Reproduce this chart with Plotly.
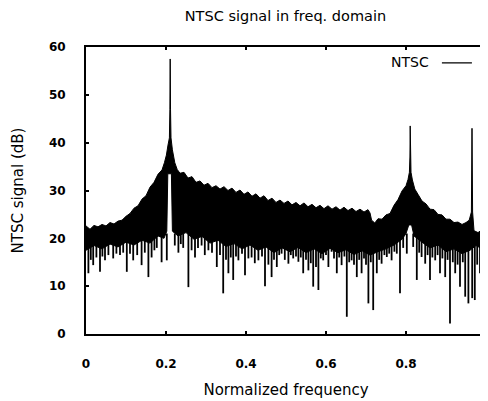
import plotly.graph_objects as go

# Upper envelope of the spectrum (normalized frequency, dB)
upper_f = [0.000, 0.010, 0.020, 0.030, 0.040, 0.050, 0.060, 0.070, 0.080, 0.090,
           0.100, 0.110, 0.120, 0.130, 0.140, 0.150, 0.160, 0.170, 0.180, 0.190,
           0.196, 0.201, 0.205, 0.2085, 0.2097, 0.2105, 0.2113, 0.2125, 0.216, 0.222,
           0.228, 0.235, 0.245, 0.255, 0.265, 0.275, 0.285, 0.295, 0.305, 0.315,
           0.325, 0.335, 0.345, 0.355, 0.365, 0.375, 0.385, 0.395, 0.405, 0.415,
           0.425, 0.435, 0.445, 0.455, 0.465, 0.475, 0.485, 0.495, 0.505, 0.515,
           0.525, 0.535, 0.545, 0.555, 0.565, 0.575, 0.585, 0.595, 0.605, 0.615,
           0.625, 0.635, 0.645, 0.655, 0.665, 0.675, 0.685, 0.695, 0.705, 0.710,
           0.714, 0.722, 0.730, 0.740, 0.750, 0.760, 0.770, 0.780, 0.790, 0.800,
           0.805, 0.8085, 0.8098, 0.8105, 0.8112, 0.8125, 0.816, 0.822, 0.830, 0.840,
           0.850, 0.860, 0.870, 0.880, 0.890, 0.900, 0.910, 0.920, 0.930, 0.940,
           0.950, 0.958, 0.9635, 0.9650, 0.9665, 0.970, 0.980, 0.990, 1.000]
upper_db = [22.6, 21.9, 22.7, 22.4, 22.9, 22.6, 23.3, 23.0, 23.6, 23.8,
            24.6, 25.2, 26.3, 26.8, 28.2, 28.9, 30.7, 31.7, 33.4, 34.3,
            35.8, 37.4, 39.5, 41.0, 47.0, 57.5, 47.0, 41.0, 38.5, 35.8,
            34.4, 33.6, 33.8, 32.6, 32.9, 31.7, 32.0, 31.1, 31.5, 30.6,
            31.0, 30.3, 30.8, 30.0, 30.5, 29.6, 30.1, 29.2, 29.7, 28.8,
            29.3, 28.4, 28.9, 27.9, 28.4, 27.5, 28.0, 27.3, 27.8, 27.0,
            27.5, 26.8, 27.4, 26.6, 27.1, 26.4, 26.9, 26.2, 26.8, 26.1,
            26.6, 25.9, 26.5, 25.8, 26.3, 25.6, 26.1, 25.5, 26.0, 25.3,
            23.8, 23.2, 24.1, 24.0, 24.9, 25.2, 26.9, 28.1, 29.9, 31.0,
            32.3, 33.8, 37.0, 43.5, 37.0, 33.8, 32.2, 30.3, 29.2, 27.8,
            27.2, 26.1, 26.0, 25.0, 24.9, 24.0, 24.0, 23.3, 23.4, 22.9,
            23.3, 23.8, 25.5, 43.0, 25.5, 21.6, 21.2, 21.8, 21.4]

# Lower solid edge of the dense trace
lower_f = [0.000, 0.020, 0.040, 0.060, 0.080, 0.100, 0.120, 0.140, 0.160, 0.180,
           0.195, 0.202, 0.2045, 0.2135, 0.216, 0.230, 0.250, 0.270, 0.290, 0.310,
           0.330, 0.350, 0.370, 0.390, 0.410, 0.430, 0.450, 0.470, 0.490, 0.510,
           0.530, 0.550, 0.570, 0.590, 0.610, 0.630, 0.650, 0.670, 0.690, 0.710,
           0.730, 0.750, 0.770, 0.790, 0.800, 0.807, 0.814, 0.820, 0.840, 0.860,
           0.880, 0.900, 0.920, 0.940, 0.960, 0.975, 0.990, 1.000]
lower_db = [17.5, 18.5, 17.8, 18.8, 18.2, 19.2, 18.6, 19.6, 19.0, 20.5,
            20.0, 21.5, 33.5, 33.5, 21.5, 20.5, 21.2, 19.8, 20.4, 19.0,
            19.6, 18.3, 18.9, 17.8, 18.6, 17.5, 18.2, 17.0, 18.0, 17.2,
            18.1, 17.0, 17.8, 16.8, 17.9, 17.0, 17.6, 16.6, 17.4, 16.5,
            17.2, 17.8, 18.6, 19.8, 21.0, 22.8, 22.8, 20.5, 19.2, 18.0,
            18.6, 17.2, 17.8, 16.8, 17.5, 18.5, 17.8, 18.5]

# Downward noise spikes: frequency and lowest value
spike_f = [0.006, 0.012, 0.018, 0.026, 0.035, 0.041, 0.0475, 0.056, 0.068, 0.076,
           0.085, 0.093, 0.102, 0.110, 0.118, 0.128, 0.139, 0.147, 0.156, 0.164,
           0.171, 0.177, 0.189, 0.202, 0.222, 0.231, 0.237, 0.243, 0.256, 0.264,
           0.2725, 0.280, 0.289, 0.297, 0.306, 0.315, 0.327, 0.335, 0.343, 0.350,
           0.356, 0.362, 0.368, 0.375, 0.381, 0.390, 0.3975, 0.406, 0.414, 0.422,
           0.431, 0.440, 0.4475, 0.456, 0.464, 0.470, 0.477, 0.483, 0.489, 0.497,
           0.506, 0.512, 0.518, 0.525, 0.531, 0.537, 0.543, 0.550, 0.556, 0.562,
           0.568, 0.575, 0.581, 0.587, 0.593, 0.600, 0.606, 0.614, 0.620, 0.627,
           0.633, 0.639, 0.646, 0.652, 0.658, 0.664, 0.670, 0.677, 0.683, 0.689,
           0.695, 0.700, 0.706, 0.712, 0.718, 0.727, 0.733, 0.739, 0.746, 0.752,
           0.758, 0.764, 0.771, 0.777, 0.785, 0.793, 0.802, 0.818, 0.827, 0.833,
           0.839, 0.848, 0.854, 0.860, 0.866, 0.873, 0.879, 0.885, 0.891, 0.898,
           0.904, 0.910, 0.917, 0.923, 0.929, 0.935, 0.942, 0.948, 0.956, 0.9655,
           0.972, 0.978, 0.985, 0.993]
spike_db = [12.7, 15.5, 14.4, 16.0, 13.0, 16.2, 15.4, 16.5, 15.8, 16.8,
            16.5, 17.0, 13.0, 16.8, 15.4, 16.5, 14.4, 17.0, 11.9, 16.0,
            17.5, 18.0, 15.0, 15.4, 18.5, 17.0, 18.8, 18.0, 9.8, 17.5,
            16.0, 18.0, 18.5, 16.5, 17.5, 17.0, 14.0, 16.5, 8.5, 15.5,
            12.7, 16.0, 11.3, 16.2, 15.4, 16.8, 12.3, 15.8, 16.0, 14.8,
            15.4, 16.2, 10.0, 14.5, 11.9, 15.5, 14.0, 16.5, 16.8, 15.5,
            14.7, 16.5, 15.8, 16.2, 15.1, 16.0, 12.7, 15.5, 13.3, 14.8,
            9.9, 14.0, 9.2, 15.8, 15.4, 16.5, 14.0, 17.2, 15.8, 12.7,
            16.0, 14.4, 16.2, 3.6, 15.0, 15.4, 14.5, 11.9, 15.5, 12.7,
            15.8, 14.5, 6.4, 15.0, 5.0, 12.7, 15.5, 14.7, 16.5, 16.1,
            16.8, 15.4, 17.2, 16.8, 8.5, 18.0, 16.8, 18.2, 11.3, 17.0,
            16.1, 14.7, 16.5, 11.3, 16.0, 15.4, 16.5, 12.7, 15.8, 11.9,
            15.5, 2.2, 15.0, 12.7, 14.5, 9.9, 15.0, 7.8, 6.4, 7.5,
            7.1, 14.5, 12.7, 15.4]
SPIKE_TOP = 21.0

x_ticks = [0, 0.2, 0.4, 0.6, 0.8, 1]
x_tick_text = ["0", "0.2", "0.4", "0.6", "0.8", "1"]
y_ticks = [0, 10, 20, 30, 40, 50, 60]

FONT = "DejaVu Sans"

fig = go.Figure()

# dense trace body
fig.add_trace(go.Scatter(
    x=upper_f + lower_f[::-1], y=upper_db + lower_db[::-1],
    mode="lines", fill="toself", fillcolor="black",
    line=dict(color="black", width=1), showlegend=False, hoverinfo="skip"))

# spikes
sx, sy = [], []
for f, v in zip(spike_f, spike_db):
    sx += [f, f, None]
    sy += [SPIKE_TOP, v, None]
fig.add_trace(go.Scatter(x=sx, y=sy, mode="lines",
                         line=dict(color="black", width=1.8),
                         showlegend=False, hoverinfo="skip"))

# legend entry
fig.add_trace(go.Scatter(x=[None], y=[None], mode="lines",
                         line=dict(color="black", width=1.2),
                         name=" ", showlegend=True))

# The page body has an 8px margin, so the figure is sized to fill the rest.
fig.update_layout(
    width=480, height=393,
    margin=dict(l=78, r=2, t=39, b=67, autoexpand=False),
    paper_bgcolor="white", plot_bgcolor="white",
    font=dict(family=FONT, color="black", size=12),
    title=dict(text="NTSC signal in freq. domain", x=0.578, xanchor="center",
               y=0.992, yanchor="top", pad=dict(t=0, b=0),
               font=dict(family=FONT, size=14.5, color="black")),
    showlegend=True,
    legend=dict(x=1.0, xanchor="right", y=0.995, yanchor="top",
                bgcolor="rgba(0,0,0,0)", borderwidth=0,
                title=dict(text="NTSC", side="left",
                           font=dict(family=FONT, size=14, color="black")),
                font=dict(family=FONT, size=12), itemwidth=30),
    xaxis=dict(range=[0, 1], tickvals=x_ticks, ticktext=x_tick_text,
               automargin=False, ticklabeloverflow="allow",
               showgrid=False, zeroline=False, showline=True, linecolor="black",
               linewidth=2, mirror="ticks", ticks="inside", ticklen=3,
               tickwidth=2, tickcolor="black", ticklabelstandoff=18,
               tickfont=dict(family=FONT, size=12, color="black", weight="bold"),
               title=dict(text="Normalized frequency", standoff=14,
                          font=dict(family=FONT, size=15, color="black"))),
    yaxis=dict(range=[0, 60], tickvals=y_ticks, automargin=False,
               showgrid=False, zeroline=False, showline=True, linecolor="black",
               linewidth=2, mirror="ticks", ticks="inside", ticklen=3,
               tickwidth=2, tickcolor="black", ticklabelstandoff=16,
               tickfont=dict(family=FONT, size=12, color="black", weight="bold"),
               title=dict(text="NTSC signal (dB)", standoff=22,
                          font=dict(family=FONT, size=15, color="black"))),
)

fig.write_html("out.html")
